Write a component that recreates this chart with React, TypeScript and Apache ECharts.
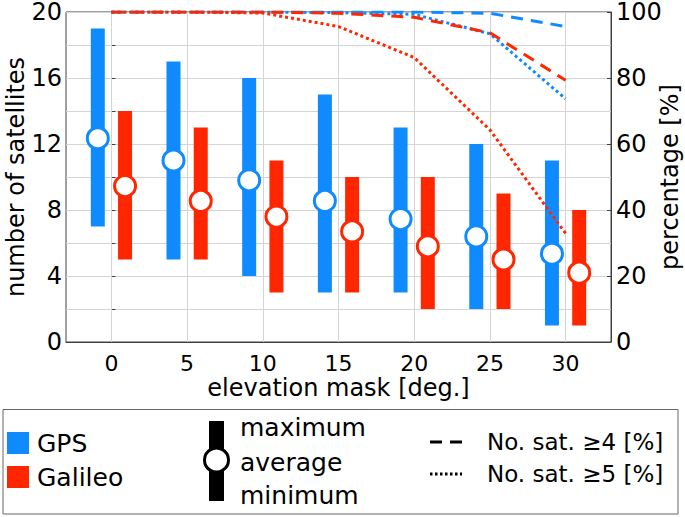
import React, { useEffect, useRef } from "react";
import * as echarts from "echarts";

const elevations = [0, 5, 10, 15, 20, 25, 30];
const xTicks = [0, 5, 10, 15, 20, 25, 30];
const gpsMax = [19, 17, 16, 15, 13, 12, 11];
const gpsMin = [7, 5, 4, 3, 3, 2, 1];
const gpsAvg = [12.35, 11.0, 9.8, 8.55, 7.45, 6.4, 5.35];
const galMax = [14, 13, 11, 10, 10, 9, 8];
const galMin = [5, 5, 3, 3, 2, 2, 1];
const galAvg = [9.45, 8.55, 7.6, 6.7, 5.8, 5.0, 4.2];
const gps4 = [100, 100, 100, 100, 100, 99.6, 95.6];
const gps5 = [100, 100, 100, 99.8, 99.3, 93.4, 73.7];
const gal4 = [100, 100, 100, 99.6, 98.4, 93.7, 79.3];
const gal5 = [100, 100, 99.7, 95.6, 86.2, 64.3, 32.9];

const BLUE = "#0f8bff";
const RED = "#ff2600";
const FONT = "DejaVu Sans";
const OFF = 0.9;

export default function App() {
  const ref = useRef<HTMLDivElement>(null);
  useEffect(() => {
    document.body.style.margin = "0";
    const chart = echarts.init(ref.current!, null, { renderer: "svg" });
    const barSeries = (name: string, off: number, mins: number[], maxs: number[], color: string) => ({
      name,
      type: "custom",
      z: 3,
      data: elevations.map((e, i) => [e + off, mins[i], maxs[i]]),
      renderItem: (_p: any, api: any) => {
        const x = api.value(0);
        const top = api.coord([x, api.value(2)]);
        const bot = api.coord([x, api.value(1)]);
        const w = 14;
        return {
          type: "rect",
          shape: { x: top[0] - w / 2, y: top[1], width: w, height: bot[1] - top[1] },
          style: { fill: color },
        };
      },
    });
    const avgSeries = (off: number, avg: number[], color: string) => ({
      type: "scatter",
      z: 4,
      symbol: "circle",
      symbolSize: 21,
      data: elevations.map((e, i) => [e + off, avg[i]]),
      itemStyle: { color: "#fff", borderColor: color, borderWidth: 3, opacity: 1 },
    });
    const pctSeries = (vals: number[], color: string, dash: number[]) => ({
      type: "line",
      yAxisIndex: 1,
      z: 5,
      symbol: "none",
      data: elevations.map((e, i) => [e, vals[i]]),
      lineStyle: { color, width: 3, type: dash },
    });
    const txt = (text: string, x: number, y: number, size: number) => ({
      type: "text",
      x,
      y,
      style: { text, fontSize: size, fontFamily: FONT, fill: "#000", align: "left", verticalAlign: "middle" },
    });
    chart.setOption({
      animation: false,
      grid: {
        left: 66,
        right: 74,
        top: 12,
        bottom: 175,
        show: true,
        borderColor: "#404040",
        borderWidth: 1,
        containLabel: false,
        outerBoundsMode: "none",
      },
      xAxis: {
        type: "value",
        min: -3,
        max: 33,
        interval: 1,
        name: "elevation mask [deg.]",
        nameLocation: "middle",
        nameGap: 34,
        nameMoveOverlap: false,
        nameTextStyle: { fontFamily: FONT, fontSize: 24, color: "#000", verticalAlign: "top" },
        axisLine: { lineStyle: { color: "#404040" } },
        axisTick: { show: false },
        splitLine: { show: false },
        axisLabel: {
          fontFamily: FONT,
          fontSize: 22,
          color: "#000",
          margin: 10,
          formatter: (v: number) => (xTicks.includes(v) ? String(v) : ""),
        },
      },
      yAxis: [
        {
          type: "value",
          min: 0,
          max: 20,
          interval: 2,
          name: "number of satellites",
          nameLocation: "middle",
          nameGap: 38,
          nameMoveOverlap: false,
          nameTextStyle: { fontFamily: FONT, fontSize: 24, color: "#000" },
          axisLine: { show: true, lineStyle: { color: "#404040" } },
          axisTick: { show: true, inside: true, length: 4, lineStyle: { color: "#404040" } },
          splitLine: { show: true, lineStyle: { color: "#d4d4d4", width: 1 } },
          axisLabel: {
            fontFamily: FONT,
            fontSize: 24,
            color: "#000",
            margin: 4,
            formatter: (v: number) => (v % 4 === 0 ? String(v) : ""),
          },
        },
        {
          type: "value",
          min: 0,
          max: 100,
          interval: 20,
          position: "right",
          name: "percentage [%]",
          nameLocation: "middle",
          nameGap: 47,
          nameMoveOverlap: false,
          nameTextStyle: { fontFamily: FONT, fontSize: 24, color: "#000" },
          axisLine: { show: true, lineStyle: { color: "#404040" } },
          axisTick: { show: true, inside: true, length: 4, lineStyle: { color: "#404040" } },
          splitLine: { show: false },
          axisLabel: { fontFamily: FONT, fontSize: 24, color: "#000", margin: 5 },
        },
      ],
      series: [
        {
          type: "scatter",
          z: 1,
          data: [],
          silent: true,
          markLine: {
            silent: true,
            symbol: ["none", "none"],
            label: { show: false },
            lineStyle: { color: "#d4d4d4", width: 1, type: "solid" },
            data: xTicks.map((v) => ({ xAxis: v })),
          },
        },
        barSeries("GPS", -OFF, gpsMin, gpsMax, BLUE),
        barSeries("Galileo", OFF, galMin, galMax, RED),
        avgSeries(-OFF, gpsAvg, BLUE),
        avgSeries(OFF, galAvg, RED),
        pctSeries(gps4, BLUE, [12, 8]),
        pctSeries(gps5, BLUE, [3, 3]),
        pctSeries(gal4, RED, [12, 8]),
        pctSeries(gal5, RED, [3, 3]),
      ],
      graphic: [
        {
          type: "rect",
          shape: { x: 3, y: 409.5, width: 675, height: 104.5 },
          style: { fill: "#fff", stroke: "#666", lineWidth: 1 },
        },
        { type: "rect", shape: { x: 7, y: 432, width: 22, height: 22 }, style: { fill: BLUE } },
        { type: "rect", shape: { x: 7, y: 466, width: 22, height: 22 }, style: { fill: RED } },
        txt("GPS", 37, 443, 25),
        txt("Galileo", 37, 477, 25),
        { type: "rect", shape: { x: 209, y: 421, width: 15, height: 80 }, style: { fill: "#000" } },
        { type: "circle", shape: { cx: 216.5, cy: 460, r: 12 }, style: { fill: "#fff", stroke: "#000", lineWidth: 3 } },
        txt("maximum", 240, 427, 25),
        txt("average", 240, 462, 25),
        txt("minimum", 240, 495, 25),
        {
          type: "line",
          shape: { x1: 430, y1: 442, x2: 462, y2: 442 },
          style: { stroke: "#000", lineWidth: 3, lineDash: [12, 8] },
        },
        {
          type: "line",
          shape: { x1: 430, y1: 474, x2: 462, y2: 474 },
          style: { stroke: "#000", lineWidth: 3, lineDash: [2.5, 2.5] },
        },
        txt("No. sat. ≥4 [%]", 487, 442, 23),
        txt("No. sat. ≥5 [%]", 487, 474, 23),
      ],
    });
    return () => chart.dispose();
  }, []);
  return <div ref={ref} style={{ width: 685, height: 517 }} />;
}
